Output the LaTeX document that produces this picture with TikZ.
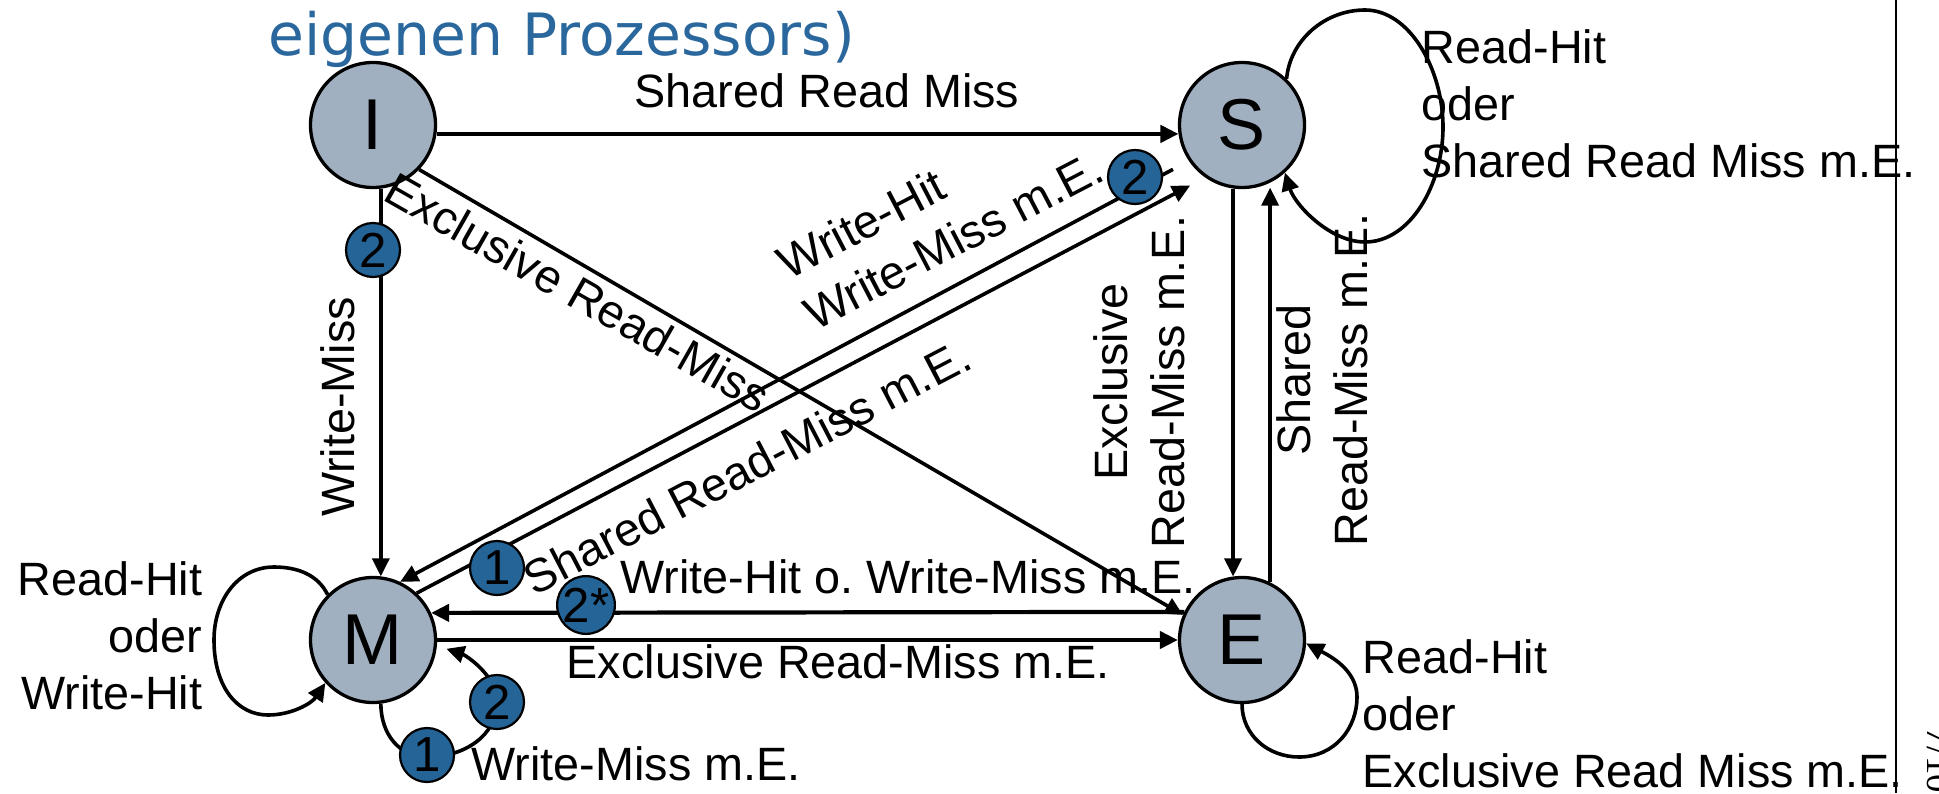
\documentclass[tikz,border=0pt]{standalone}
\usepackage{fontspec}
\setmainfont{Liberation Sans}
\newfontfamily\titlefont{DejaVu Sans}
\newfontfamily\pagefont{Liberation Serif}
\usetikzlibrary{arrows.meta}
\definecolor{statefill}{RGB}{160,176,193}
\definecolor{markblue}{RGB}{36,100,150}
\definecolor{titleblue}{RGB}{42,103,156}

\begin{document}
\begin{tikzpicture}[x=0.1mm,y=-0.1mm,
  state/.style={circle,draw,line width=0.33mm,fill=statefill,minimum size=12.5mm,
    inner sep=0pt,font=\fontsize{20.5}{20.5}\selectfont},
  badge/.style={circle,draw,line width=0.22mm,fill=markblue,minimum size=5.4mm,
    inner sep=0pt,font=\fontsize{14}{14}\selectfont},
  lbl/.style={inner sep=0pt,font=\fontsize{13.3}{16.2}\selectfont\frenchspacing},
  arr/.style={-{Triangle[length=1.8mm,width=1.7mm]},line width=0.36mm},
  harr/.style={arr,line width=0.42mm}]
\useasboundingbox (0,0) rectangle (1939,793);

% heading fragment
\node[font=\titlefont\fontsize{16.6}{16.6}\selectfont,text=titleblue,
  anchor=base west,inner sep=0pt] (title) at (268,55) {eigenen Prozessors)};

% page rule and page number
\coordinate (rtop) at (1896,0);
\coordinate (rbot) at (1896,793);
\draw[line width=0.22mm] (rtop) -- (rbot);
\node[font=\pagefont\fontsize{10.5}{10.5}\selectfont,rotate=-90,
  anchor=base west,inner sep=0pt] (pg) at (1927,727) {7/10};

% states
\node[state] (I) at (373,125) {I};
\node[state] (S) at (1242,125) {S};
\node[state] (M) at (373,640) {M};
\node[state] (E) at (1242,640) {E};

% transitions
\draw[harr] (I.-8) -- (S.188);
\draw[arr] (I.-83) -- (M.83);
\draw[arr] (I.-44) -- (E.157);
\draw[arr,shorten <=1.8mm] (S.214) -- (M.65);
\draw[arr,shorten >=1.7mm] (M.47) -- (S.235);
\draw[harr] (E.154) -- (M.25);
\draw[harr] (M.east) -- (E.west);
\draw[arr] (S.-98) -- (E.98);
\draw[arr,shorten >=0.5mm] (E.64) -- (S.-64);

% self loops
\draw[arr] (S.46) .. controls (1290,40) and (1325,10) .. (1365,10)
  .. controls (1410,10) and (1443,70) .. (1443,127)
  .. controls (1443,185) and (1410,242) .. (1365,242)
  .. controls (1330,242) and (1295,205) .. (S.-48);
\draw[arr] (M.135) .. controls (318,575) and (298,567) .. (274,567)
  .. controls (238,567) and (214,600) .. (214,640)
  .. controls (214,688) and (238,715) .. (268,715)
  .. controls (292,715) and (312,703) .. (M.222);
\draw[arr,shorten >=1mm] (M.-83) .. controls (381,735) and (400,757) .. (427,757)
  .. controls (465,757) and (497,735) .. (497,702)
  .. controls (497,675) and (465,655) .. (M.-5);
\draw[arr] (E.-90) .. controls (1242,735) and (1268,757) .. (1299,757)
  .. controls (1335,757) and (1357,728) .. (1357,697)
  .. controls (1357,670) and (1330,656) .. (E.-3);

% numbered markers
\node[badge] (b1) at (373,250) {2};
\node[badge] (b2) at (1135,177) {2};
\node[badge] (b3) at (497,568) {1};
\node[badge] (b4) at (586,605) {2*};
\node[badge] (b5) at (427,755) {1};
\node[badge] (b6) at (497,702) {2};

% transition labels
\node[lbl,anchor=base] (tIS) at (827,107) {Shared Read Miss};
\node[lbl,rotate=90] (tIM) at (338,407) {Write-Miss};
\node[lbl,rotate=-29.6] (tIE) at (578,292) {Exclusive Read-Miss};
\node[lbl,rotate=27.5,align=left] (tSM) at (940,215) {Write-Hit\\Write-Miss m.E.};
\node[lbl,rotate=27.5] (tMS) at (747,467) {Shared Read-Miss m.E.};
\node[lbl,rotate=90,align=center] (tSE) at (1139,382) {Exclusive\\Read-Miss m.E.};
\node[lbl,rotate=90,align=center] (tES) at (1322,380) {Shared\\Read-Miss m.E.};
\node[lbl,anchor=base west] (tEM) at (620,593) {Write-Hit o. Write-Miss m.E.};
\node[lbl,anchor=base west] (tME) at (566,678) {Exclusive Read-Miss m.E.};
\node[lbl,anchor=base west] (tMM) at (471,780) {Write-Miss m.E.};
\node[lbl,anchor=east,align=right] (tMloop) at (203,636) {Read-Hit\\oder\\Write-Hit};
\node[lbl,anchor=west,align=left] (tSloop) at (1421,104) {Read-Hit\\oder\\Shared Read Miss m.E.};
\node[lbl,anchor=west,align=left] (tEloop) at (1362,714) {Read-Hit\\oder\\Exclusive Read Miss m.E.};
\end{tikzpicture}
\end{document}
